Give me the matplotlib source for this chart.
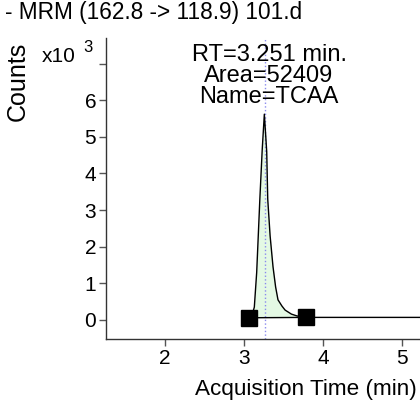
import matplotlib
matplotlib.use("Agg")
import matplotlib.pyplot as plt
import numpy as np

plt.rcParams['font.family'] = ['Liberation Sans', 'DejaVu Sans']

# data (counts in thousands)
time_min = [3.06, 3.10, 3.13, 3.16, 3.20, 3.23, 3.257, 3.287, 3.30, 3.33, 3.367,
            3.40, 3.43, 3.48, 3.52, 3.60, 3.67, 3.75, 3.79, 4.2, 4.8, 5.3]
counts_k = [0.06, 0.12, 0.35, 1.3, 3.3, 4.65, 5.62, 4.6, 3.3, 2.3, 1.45,
            0.9, 0.55, 0.38, 0.27, 0.16, 0.11, 0.08, 0.07, 0.07, 0.07, 0.07]
peak_start, peak_end = 3.06, 3.79
base_start, base_end = 0.06, 0.07
rt_line = 3.27
xticks = [2, 3, 4, 5]
yticks = [0, 1, 2, 3, 4, 5, 6, 7]
ytick_labels = ['0', '1', '2', '3', '4', '5', '6', '']

fig = plt.figure(figsize=(4.2, 4.03), dpi=100)
ax = fig.add_axes([106/420, 1-339/403, 1-106/420, (339-38)/403])

t = np.array(time_min); c = np.array(counts_k)
mask = (t >= peak_start) & (t <= peak_end)
base = np.interp(t[mask], [peak_start, peak_end], [base_start, base_end])
ax.fill_between(t[mask], base, c[mask], color='#e4f9e4', lw=0, zorder=1)
ax.plot(t, c, color='black', lw=1, zorder=3)
ax.plot([peak_start, peak_end], [base_start, base_end], color='black', lw=1, zorder=3)
ax.plot([peak_start, peak_end], [base_start, base_end], ls='none', marker='s',
        ms=11, color='black', zorder=4)
ax.axvline(rt_line, color='#8a8aee', ls=':', lw=1, zorder=2)

ax.set_xlim(1.25, 5.23)
ax.set_ylim(-0.52, 7.7)
ax.set_xticks(xticks)
ax.set_yticks(yticks)
ax.set_yticklabels(ytick_labels)
for s in ['top', 'right']:
    ax.spines[s].set_visible(False)
for s in ['left', 'bottom']:
    ax.spines[s].set_color('#333333')
    ax.spines[s].set_linewidth(1)
ax.tick_params(axis='both', direction='out', length=5, width=1, color='#555555',
               labelsize=15, pad=2)

fig.text(269/420, 1-76/403, 'RT=3.251 min.\nArea=52409\nName=TCAA', ha='center', va='center',
         fontsize=17, linespacing=0.93, zorder=5)

fig.text(5/420, 1-12/403, '- MRM (162.8 -> 118.9) 101.d', ha='left', va='center', fontsize=16.3)
fig.text(17.5/420, 1-81/403, 'Counts', rotation=90, ha='center', va='center', fontsize=18)
fig.text(42/420, 1-57/403, 'x10', ha='left', va='center', fontsize=15)
fig.text(83/420, 1-48/403, '3', ha='left', va='center', fontsize=12)
fig.text(417/420, 1-389/403, 'Acquisition Time (min)', ha='right', va='center', fontsize=16.2)

fig.savefig('out.png', dpi=100)
